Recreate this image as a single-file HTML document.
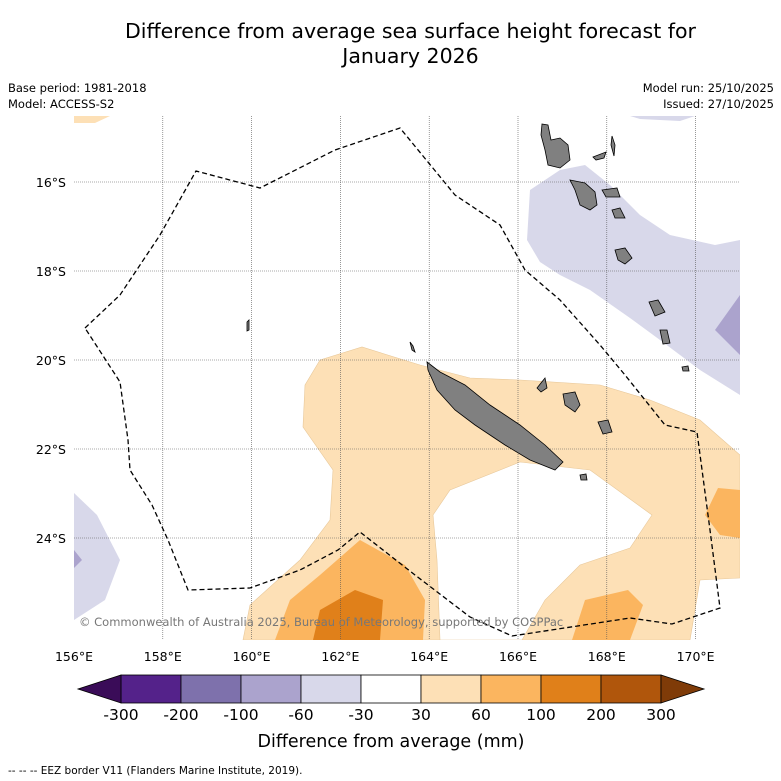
<!DOCTYPE html>
<html><head><meta charset="utf-8"><style>
body{margin:0;background:#fff;font-family:"DejaVu Sans",sans-serif;}
#w{position:relative;width:781px;height:781px;overflow:hidden;background:#fff}
.t{position:absolute;white-space:nowrap;color:#000}
</style></head><body>
<div id="w">
<div class="t" style="left:0;width:821px;top:19px;text-align:center;font-size:20.5px;line-height:25px">Difference from average sea surface height forecast for<br>January 2026</div>
<div class="t" style="left:8px;top:80px;font-size:11.5px;line-height:16px">Base period: 1981-2018<br>Model: ACCESS-S2</div>
<div class="t" style="right:7px;top:80px;font-size:11.5px;line-height:16px;text-align:right">Model run: 25/10/2025<br>Issued: 27/10/2025</div>
<svg id="map" width="781" height="781" style="position:absolute;left:0;top:0">
<defs><clipPath id="c"><rect x="74" y="116" width="666" height="524"/></clipPath></defs>
<g clip-path="url(#c)">
<polygon fill="#fde0b6" stroke="#e8c89a" stroke-width="0.6" points="243,640 250,605 300,560 330,520 333,470 303,427 305,385 320,360 362,347 420,365 470,378 520,380 600,385 650,400 700,420 740,455 740,578 700,580 690,640"/>
<polygon fill="#fff" stroke="#e8c89a" stroke-width="0.6" points="433,515 450,490 520,462 590,470 652,515 630,548 580,565 545,600 522,640 440,640 437,560"/>
<polygon fill="#fde0b6" points="74,116 110,116 95,123 74,123"/>
<polygon fill="#fbb55f" points="275,640 290,600 320,575 360,540 405,565 425,600 423,640"/>
<polygon fill="#fbb55f" points="572,640 585,600 628,590 643,605 630,640"/>
<polygon fill="#fbb55f" points="740,490 718,488 705,515 720,535 740,538"/>
<polygon fill="#e0801a" points="313,640 320,610 355,590 383,600 380,640"/>
<polygon fill="#d8d8ea" points="527,240 530,190 560,170 585,165 610,185 640,215 670,235 715,245 740,240 740,395 700,370 660,340 630,318 590,290 560,275 540,262"/>
<polygon fill="#d8d8ea" points="630,116 695,116 680,121 640,119"/>
<polygon fill="#aba3cd" points="740,295 715,330 740,355"/>
<polygon fill="#d8d8ea" points="74,493 97,515 120,560 105,600 74,620"/>
<polygon fill="#aba3cd" points="74,550 82,560 74,568"/>
</g>
<g id="grid" stroke="#555" stroke-width="0.6" stroke-dasharray="1,1"></g>
<g fill="#808080" stroke="#000" stroke-width="0.8">
<polygon points="427,362 440,372 465,385 490,405 520,425 545,445 563,462 555,470 530,460 505,445 475,425 455,410 437,390 428,370"/>
<polygon points="542,124 548,125 551,140 560,138 568,145 570,160 560,168 548,165 545,150 541,135"/>
<polygon points="612,136 615,145 614,156 611,145"/>
<polygon points="593,157 606,152 604,158 596,160"/>
<polygon points="570,180 585,183 595,192 597,205 590,210 580,205 575,190"/>
<polygon points="602,190 617,188 620,197 606,197"/>
<polygon points="612,210 620,208 625,218 615,218"/>
<polygon points="615,250 625,248 632,258 625,264 618,260"/>
<polygon points="649,302 658,300 665,312 655,316"/>
<polygon points="660,330 667,330 670,343 663,344"/>
<polygon points="682,367 688,366 689,371 683,371"/>
<polygon points="563,394 575,392 580,405 575,412 565,405"/>
<polygon points="598,422 608,420 612,432 603,434"/>
<polygon points="537,388 545,378 547,388 541,392"/>
<polygon points="580,475 586,474 587,480 581,480"/>
<polygon points="247,322 249,320 249,330 247,331"/>
<polygon points="410,342 413,346 415,352 412,350"/>
</g>
<polyline fill="none" stroke="#000" stroke-width="1.3" stroke-dasharray="5,3" points="85,328 120,295 160,235 196,171 260,188 335,150 400,128 455,195 500,225 525,270 560,300 600,345 625,375 665,425 697,432 710,530 720,608 672,624 630,618 512,636 470,617 415,575 360,532 338,550 300,570 250,588 188,590 168,540 152,505 130,470 128,440 120,382 85,328"/>
<text x="79" y="626" font-size="11.5" fill="#777" font-family="DejaVu Sans, sans-serif">© Commonwealth of Australia 2025, Bureau of Meteorology, supported by COSPPac</text>
<g id="axes" font-size="12.5" font-family="DejaVu Sans, sans-serif"></g>
<g id="cbar"></g>
<text x="391" y="747" font-size="17.5" text-anchor="middle" font-family="DejaVu Sans, sans-serif">Difference from average (mm)</text>
<text x="8" y="774" font-size="10.5" font-family="DejaVu Sans, sans-serif">--  --  -- EEZ border V11 (Flanders Marine Institute, 2019).</text>
</svg>
</div>
<script>
const lonTicks=[156,158,160,162,164,166,168,170];
const latTicks=[16,18,20,22,24];
const levels=[-300,-200,-100,-60,-30,30,60,100,200,300];
const levelColors=["#54228a","#7e71ac","#aba3cd","#d8d8ea","#ffffff","#fde0b6","#fbb55f","#e0801a","#b0560c"];
const extendColors=["#3a0c58","#7f3b08"];
const NS="http://www.w3.org/2000/svg";
const xLon=l=>74+(l-156)*44.4, yLat=l=>182+(l-16)*44.5;
function mk(t,a,p){const e=document.createElementNS(NS,t);for(const k in a)e.setAttribute(k,a[k]);p.appendChild(e);return e;}
const grid=document.getElementById('grid'),axes=document.getElementById('axes'),cb=document.getElementById('cbar');
lonTicks.forEach(l=>{const x=xLon(l);
 if(l>156){const g=mk('line',{x1:x,x2:x,y1:116,y2:640},grid);
 
 }
 const t=mk('text',{x:x,y:661,'text-anchor':'middle'},axes);t.textContent=l+'°E';
 
 });
latTicks.forEach(l=>{const y=yLat(l);
 const g=mk('line',{x1:74,x2:740,y1:y,y2:y},grid);
 
 
 const t=mk('text',{x:66,y:y+5,'text-anchor':'end'},axes);t.textContent=l+'°S';
 
 });
const cx0=121,cw=60,cy=675,ch=28;
levelColors.forEach((c,i)=>{const r=mk('rect',{x:cx0+i*cw,y:cy,width:cw,height:ch,fill:c,stroke:'#000','stroke-width':0.8},cb);
 
 });
const xe=cx0+levelColors.length*cw;
const l1=mk('polygon',{points:`${cx0},${cy} 78,${cy+ch/2} ${cx0},${cy+ch}`,fill:extendColors[0],stroke:'#000','stroke-width':0.8},cb);


const l2=mk('polygon',{points:`${xe},${cy} ${xe+43},${cy+ch/2} ${xe},${cy+ch}`,fill:extendColors[1],stroke:'#000','stroke-width':0.8},cb);


levels.forEach((v,i)=>{const t=mk('text',{x:cx0+i*cw,y:720,'text-anchor':'middle','font-size':15.5,'font-family':'DejaVu Sans, sans-serif'},cb);t.textContent=v;
 
 });
</script>
</body></html>
